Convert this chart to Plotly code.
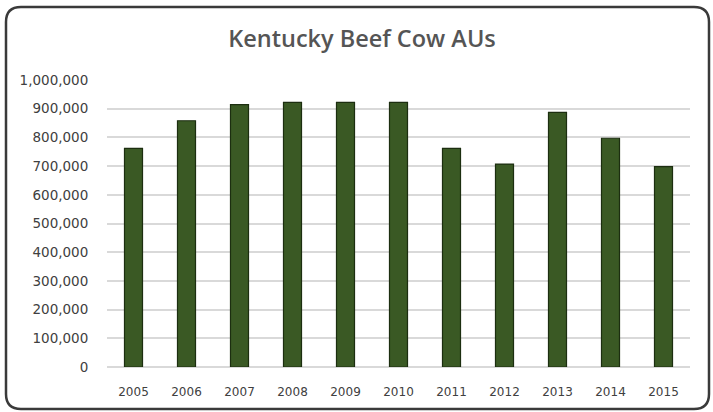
import plotly.graph_objects as go

years = ["2005", "2006", "2007", "2008", "2009", "2010", "2011", "2012", "2013", "2014", "2015"]
beef_cow_aus = [762000, 858000, 914000, 922000, 922000, 922000, 762000, 707000, 887000, 797000, 698000]
y_ticks = [0, 100000, 200000, 300000, 400000, 500000, 600000, 700000, 800000, 900000, 1000000]

W, H = 713, 412
ML, MR, MT, MB = 107, 23, 80, 45
PW, PH = W - ML - MR, H - MT - MB


def px2paper(x, y):
    return (x - ML) / PW, (H - MB - y) / PH


def rounded_rect(x0, y0, x1, y1, r):
    def P(x, y):
        a, b = px2paper(x, y)
        return f"{a:.5f},{b:.5f}"
    d = f"M {P(x0 + r, y0)} L {P(x1 - r, y0)} Q {P(x1, y0)} {P(x1, y0 + r)} "
    d += f"L {P(x1, y1 - r)} Q {P(x1, y1)} {P(x1 - r, y1)} "
    d += f"L {P(x0 + r, y1)} Q {P(x0, y1)} {P(x0, y1 - r)} "
    d += f"L {P(x0, y0 + r)} Q {P(x0, y0)} {P(x0 + r, y0)} Z"
    return d


fig = go.Figure(
    go.Bar(
        x=years,
        y=beef_cow_aus,
        marker=dict(color="#3a5924", line=dict(color="#1c2e10", width=1.2)),
        width=0.34,
    )
)

fig.update_layout(
    width=W,
    height=H,
    margin=dict(l=ML, r=MR, t=MT, b=MB),
    paper_bgcolor="white",
    plot_bgcolor="white",
    showlegend=False,
    title=dict(
        text="Kentucky Beef Cow AUs",
        x=362 / W,
        xanchor="center",
        y=1 - 39 / H,
        yanchor="middle",
        font=dict(family="Open Sans", size=23.5, color="#555555", weight=600),
    ),
    shapes=[
        dict(
            type="path",
            xref="paper",
            yref="paper",
            path=rounded_rect(6, 7, 709, 409, 15),
            line=dict(color="#3a3a3a", width=2.5),
            fillcolor="rgba(0,0,0,0)",
            layer="above",
        )
    ],
)

fig.update_xaxes(
    type="category",
    showgrid=False,
    showline=False,
    ticks="outside",
    ticklen=14,
    tickcolor="rgba(0,0,0,0)",
    tickfont=dict(family="DejaVu Sans", size=12, color="#404040"),
)

fig.update_yaxes(
    range=[0, 1000000],
    tickvals=y_ticks,
    tickformat=",",
    showgrid=True,
    gridcolor="#d9d9d9",
    gridwidth=1.5,
    zeroline=True,
    zerolinecolor="#d9d9d9",
    zerolinewidth=1.5,
    showline=False,
    ticks="outside",
    ticklen=15,
    tickcolor="rgba(0,0,0,0)",
    tickfont=dict(family="DejaVu Sans", size=13.5, color="#404040"),
)

fig.write_html(
    "out.html",
    config={"displayModeBar": False},
    post_script="document.body.style.margin='0';document.body.style.overflow='hidden';",
)
